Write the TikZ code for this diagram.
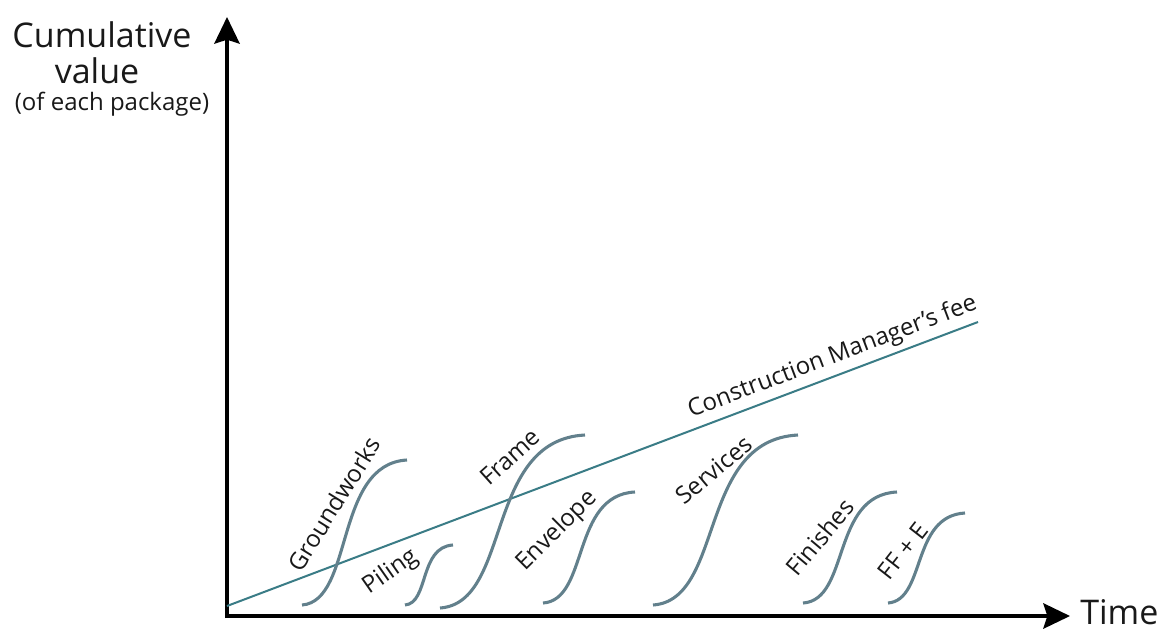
\documentclass[tikz,border=0pt]{standalone}
\usepackage{fontspec}
\setmainfont{Open Sans}
\usetikzlibrary{arrows.meta}
\definecolor{curvecol}{RGB}{98,128,140}
\definecolor{feecol}{RGB}{58,124,134}
\definecolor{txt}{RGB}{25,25,25}
\begin{document}
\begin{tikzpicture}[x=0.75pt,y=-0.75pt,
  axis/.style={line width=2.6pt,black,-{Stealth[length=20pt,width=19pt,inset=3pt]}},
  scurve/.style={line width=2.3pt,curvecol},
  feeline/.style={line width=1.5pt,feecol},
  lbl/.style={font=\fontsize{18}{20}\selectfont,text=txt,inner sep=0pt},
  big/.style={font=\fontsize{25.5}{27}\selectfont,text=txt,inner sep=0pt,anchor=base}]
\useasboundingbox[fill=white] (0,0) rectangle (1163,628);
% axes
\coordinate (o) at (227,616);
\coordinate (ytip) at (227,17);
\coordinate (xtip) at (1070,616);
\draw[axis] (227,618) -- (ytip);
\draw[axis] (225,616) -- (xtip);
% axis labels
\node[big] (cum) at (102,47) {Cumulative};
\node[big] (val) at (97,83) {value};
\node[lbl,anchor=base] (pkg) at (112,110) {(of each package)};
\node[big,anchor=base west] (time) at (1080,624) {Time};
% construction manager's fee line
\coordinate (fs) at (227,606);
\coordinate (fe) at (978,322);
\draw[feeline] (fs) -- (fe) node[lbl,pos=0.815,sloped,above=4pt] (fee) {Construction Manager's fee};
% S-curves
\coordinate (g0) at (302,605); \coordinate (g1) at (407,460);
\draw[scurve] (g0) .. controls (354,601) and (334,464) .. (g1);
\coordinate (p0) at (405,605); \coordinate (p1) at (453,545);
\draw[scurve] (p0) .. controls (429,603) and (419,547) .. (p1);
\coordinate (f0) at (440,608); \coordinate (f1) at (585,435);
\draw[scurve] (f0) .. controls (512,603) and (484,440) .. (f1);
\coordinate (e0) at (543,603); \coordinate (e1) at (635,492);
\draw[scurve] (e0) .. controls (589,600) and (571,495) .. (e1);
\coordinate (s0) at (653,605); \coordinate (s1) at (798,435);
\draw[scurve] (s0) .. controls (725,600) and (697,440) .. (s1);
\coordinate (n0) at (803,603); \coordinate (n1) at (897,492);
\draw[scurve] (n0) .. controls (850,600) and (831,495) .. (n1);
\coordinate (ff0) at (888,603); \coordinate (ff1) at (965,513);
\draw[scurve] (ff0) .. controls (926,600) and (911,516) .. (ff1);
% curve labels
\node[lbl,rotate=58] (lg) at (334,504) {Groundworks};
\node[lbl,rotate=35] (lp) at (391,572) {Piling};
\node[lbl,rotate=42] (lf) at (510,457) {Frame};
\node[lbl,rotate=45] (le) at (557,531) {Envelope};
\node[lbl,rotate=40] (ls) at (714,470) {Services};
\node[lbl,rotate=50] (ln) at (820,537) {Finishes};
\node[lbl,rotate=52] (lff) at (903,551) {FF + E};
\end{tikzpicture}
\end{document}
